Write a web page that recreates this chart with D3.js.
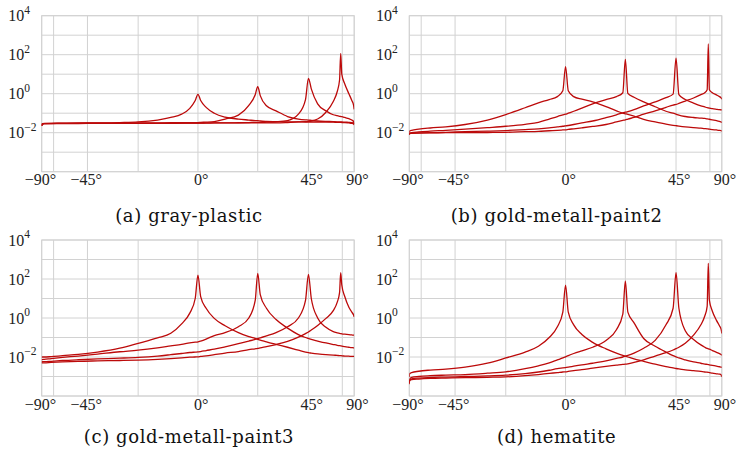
<!DOCTYPE html>
<html><head><meta charset="utf-8">
<script src="https://cdn.jsdelivr.net/npm/d3@7"></script>
<style>body{margin:0;background:#fff}svg{display:block}</style>
</head><body>
<svg id="fig" width="739" height="453"></svg>
<script>
// Outgoing elevation angles (degrees) shared by every slice.
const angles = [-90,-87,-80,-70,-60,-50,-40,-30,-22.5,-15,-10,-6,-3,-1,0,1,3,6,10,15,19,21.5,22.5,23.5,26,30,35,40,43.5,45,46.5,50,55,60,63,65,66,67,70,75,80,85,90];

// log10 of the reflectance, one row per incident direction.
const grayPlastic = [
  [-1.65,-1.55,-1.52,-1.52,-1.51,-1.5,-1.5,-1.48,-1.45,-1.35,-1.22,-1.05,-0.75,-0.35,-0.03,-0.35,-0.7,-1.0,-1.2,-1.3,-1.35,-1.38,-1.38,-1.4,-1.42,-1.43,-1.44,-1.44,-1.45,-1.45,-1.45,-1.45,-1.46,-1.46,-1.47,-1.47,-1.47,-1.48,-1.48,-1.5,-1.52,-1.55,-1.6],
  [-1.65,-1.56,-1.53,-1.52,-1.52,-1.52,-1.51,-1.51,-1.5,-1.5,-1.49,-1.49,-1.48,-1.48,-1.48,-1.47,-1.46,-1.43,-1.3,-1.1,-0.6,-0.05,0.36,-0.1,-0.62,-0.88,-1.17,-1.3,-1.34,-1.35,-1.37,-1.4,-1.42,-1.43,-1.44,-1.45,-1.45,-1.45,-1.46,-1.47,-1.48,-1.5,-1.55],
  [-1.65,-1.56,-1.53,-1.53,-1.52,-1.52,-1.52,-1.52,-1.52,-1.52,-1.51,-1.51,-1.51,-1.51,-1.51,-1.51,-1.5,-1.5,-1.5,-1.49,-1.48,-1.47,-1.47,-1.47,-1.46,-1.44,-1.38,-1.05,-0.3,0.79,0.25,-0.52,-0.88,-1.08,-1.13,-1.16,-1.17,-1.18,-1.22,-1.28,-1.35,-1.42,-1.55],
  [-1.65,-1.57,-1.53,-1.53,-1.53,-1.53,-1.52,-1.52,-1.52,-1.52,-1.52,-1.51,-1.51,-1.51,-1.51,-1.51,-1.51,-1.5,-1.5,-1.5,-1.5,-1.5,-1.5,-1.5,-1.5,-1.5,-1.48,-1.45,-1.43,-1.42,-1.4,-1.3,-0.95,-0.4,0.1,0.7,2.07,1.0,0.5,0.0,-0.35,-0.6,-0.8]
];
const goldMetallPaint2 = [
  [-2.0,-1.93,-1.88,-1.82,-1.76,-1.7,-1.58,-1.35,-1.07,-0.72,-0.47,-0.3,-0.15,0.15,1.39,0.15,-0.15,-0.28,-0.42,-0.66,-0.88,-1.0,-1.03,-1.06,-1.15,-1.32,-1.45,-1.56,-1.62,-1.64,-1.66,-1.7,-1.74,-1.77,-1.79,-1.8,-1.81,-1.82,-1.84,-1.86,-1.88,-1.9,-1.92],
  [-2.12,-2.05,-2.0,-1.96,-1.92,-1.88,-1.82,-1.74,-1.67,-1.57,-1.47,-1.3,-1.17,-1.09,-1.05,-1.0,-0.9,-0.74,-0.52,-0.3,-0.15,0.05,1.76,0.02,-0.18,-0.42,-0.67,-0.9,-1.0,-1.05,-1.1,-1.17,-1.22,-1.25,-1.27,-1.29,-1.3,-1.31,-1.34,-1.38,-1.42,-1.45,-1.48],
  [-2.1,-2.05,-2.03,-2.02,-2.0,-1.98,-1.95,-1.92,-1.89,-1.84,-1.8,-1.75,-1.7,-1.67,-1.65,-1.63,-1.58,-1.5,-1.4,-1.23,-1.08,-0.98,-0.95,-0.92,-0.82,-0.62,-0.42,-0.2,-0.02,1.82,-0.05,-0.3,-0.48,-0.62,-0.68,-0.72,-0.73,-0.74,-0.77,-0.8,-0.82,-0.83,-0.85],
  [-2.08,-2.02,-2.02,-2.01,-2.01,-2.0,-2.0,-1.99,-1.98,-1.95,-1.93,-1.9,-1.88,-1.86,-1.85,-1.83,-1.8,-1.75,-1.68,-1.58,-1.45,-1.37,-1.34,-1.3,-1.22,-1.05,-0.88,-0.7,-0.58,-0.55,-0.5,-0.38,-0.22,-0.05,0.05,0.2,2.55,0.2,0.05,-0.06,-0.15,-0.22,-0.28]
];
const goldMetallPaint3 = [
  [-1.98,-2.0,-2.0,-1.98,-1.93,-1.87,-1.75,-1.55,-1.3,-1.02,-0.78,-0.3,0.25,1.0,2.2,1.1,0.5,-0.02,-0.4,-0.75,-0.95,-1.05,-1.1,-1.13,-1.22,-1.35,-1.5,-1.65,-1.75,-1.78,-1.8,-1.84,-1.88,-1.9,-1.92,-1.93,-1.93,-1.94,-1.95,-1.96,-1.97,-1.97,-1.96],
  [-2.12,-2.13,-2.12,-2.08,-2.02,-1.95,-1.85,-1.73,-1.65,-1.53,-1.43,-1.35,-1.28,-1.24,-1.22,-1.18,-1.08,-0.9,-0.75,-0.45,0.0,0.9,2.29,1.2,0.5,-0.08,-0.52,-0.85,-1.0,-1.05,-1.1,-1.18,-1.28,-1.36,-1.4,-1.42,-1.43,-1.44,-1.47,-1.5,-1.52,-1.53,-1.53],
  [-2.22,-2.24,-2.24,-2.22,-2.18,-2.14,-2.1,-2.06,-2.02,-1.95,-1.88,-1.82,-1.77,-1.75,-1.74,-1.72,-1.67,-1.6,-1.48,-1.32,-1.18,-1.1,-1.05,-1.02,-0.92,-0.75,-0.45,0.0,0.9,2.24,1.0,0.0,-0.48,-0.7,-0.76,-0.79,-0.8,-0.81,-0.83,-0.85,-0.87,-0.88,-0.88],
  [-2.27,-2.3,-2.3,-2.28,-2.25,-2.22,-2.2,-2.18,-2.16,-2.12,-2.08,-2.04,-2.01,-2.0,-1.99,-1.97,-1.94,-1.88,-1.8,-1.72,-1.62,-1.58,-1.56,-1.53,-1.47,-1.36,-1.2,-0.98,-0.8,-0.72,-0.62,-0.38,-0.02,0.38,0.8,1.3,2.32,1.7,1.1,0.55,0.3,0.15,0.06]
];
const hematite = [
  [-3.02,-2.87,-2.8,-2.73,-2.67,-2.62,-2.52,-2.32,-2.05,-1.75,-1.45,-1.0,-0.45,0.3,1.69,0.3,-0.35,-0.85,-1.25,-1.58,-1.8,-1.92,-1.96,-2.0,-2.1,-2.22,-2.37,-2.49,-2.56,-2.59,-2.61,-2.66,-2.7,-2.74,-2.77,-2.78,-2.79,-2.8,-2.83,-2.86,-2.88,-2.92,-3.02],
  [-3.33,-3.15,-3.05,-3.0,-2.96,-2.93,-2.9,-2.83,-2.76,-2.6,-2.45,-2.3,-2.15,-2.05,-1.99,-1.93,-1.82,-1.68,-1.5,-1.15,-0.6,0.2,1.89,0.3,-0.25,-1.05,-1.45,-1.75,-1.93,-1.99,-2.05,-2.15,-2.25,-2.32,-2.36,-2.38,-2.39,-2.4,-2.43,-2.47,-2.5,-2.52,-2.54],
  [-3.36,-3.2,-3.12,-3.08,-3.05,-3.03,-3.0,-2.97,-2.93,-2.85,-2.77,-2.68,-2.6,-2.56,-2.54,-2.52,-2.47,-2.4,-2.32,-2.2,-2.07,-2.0,-1.96,-1.92,-1.8,-1.55,-1.15,-0.35,0.5,2.32,0.5,-0.65,-1.1,-1.38,-1.5,-1.56,-1.58,-1.6,-1.67,-1.76,-1.83,-1.88,-1.91],
  [-3.4,-3.22,-3.16,-3.13,-3.1,-3.08,-3.06,-3.04,-3.02,-2.96,-2.9,-2.84,-2.8,-2.77,-2.76,-2.74,-2.7,-2.65,-2.57,-2.48,-2.42,-2.38,-2.37,-2.35,-2.28,-2.15,-1.95,-1.78,-1.64,-1.57,-1.5,-1.3,-0.88,-0.35,0.1,0.6,2.8,0.9,0.35,-0.12,-0.4,-0.6,-0.79]
];

const panelData = [grayPlastic, goldMetallPaint2, goldMetallPaint3, hematite];
const panelTitles = ["(a) gray-plastic", "(b) gold-metall-paint2", "(c) gold-metall-paint3", "(d) hematite"];
const xTickAngles = [-90, -45, 0, 45, 90];
const xGridAngles = [-90, -67.5, -45, -22.5, 0, 22.5, 45, 67.5, 90];
const yTickExps = [-2, 0, 2, 4];
const yGridExps = [-4, -3, -2, -1, 0, 1, 2, 3, 4];

// Layout
const W = 312.5, H = 156;
const origins = [[41.7, 15.7], [409.3, 15.7], [41.7, 240], [409.3, 240]];
const captionY = [221.5, 221.5, 443, 443];
const gridColor = "#d2d2d2";
const lineColor = "#bc0a0a";
const tickFont = "'Liberation Serif', 'Times New Roman', serif";
const capFont = "'DejaVu Serif', serif";

const svg = d3.select("#fig");
const defs = svg.append("defs");

panelData.forEach((rows, p) => {
  const [left, top] = origins[p];
  const sx = d3.scaleLinear().domain([-1, 1]).range([left, left + W]);
  const xa = a => sx(Math.sin(a * Math.PI / 180));
  const y = d3.scaleLog().domain([1e-4, 1e4]).range([top + H, top]);
  const g = svg.append("g");

  defs.append("clipPath").attr("id", "clip" + p)
    .append("rect").attr("x", left).attr("y", top - 2).attr("width", W).attr("height", H + 2);

  // grid
  g.selectAll("line.v").data(xGridAngles).join("line")
    .attr("x1", d => xa(d)).attr("x2", d => xa(d))
    .attr("y1", top).attr("y2", top + H)
    .attr("stroke", gridColor).attr("stroke-width", 1);
  g.selectAll("line.h").data(yGridExps).join("line")
    .attr("x1", left).attr("x2", left + W)
    .attr("y1", d => y(Math.pow(10, d))).attr("y2", d => y(Math.pow(10, d)))
    .attr("stroke", gridColor).attr("stroke-width", 1);
  g.append("rect").attr("x", left).attr("y", top).attr("width", W).attr("height", H)
    .attr("fill", "none").attr("stroke", gridColor).attr("stroke-width", 1);

  // curves
  const line = d3.line()
    .x((d, i) => xa(angles[i]))
    .y(d => y(Math.pow(10, d)))
    .curve(d3.curveMonotoneX);
  g.append("g").attr("clip-path", `url(#clip${p})`)
    .selectAll("path").data(rows).join("path")
    .attr("d", line)
    .attr("fill", "none").attr("stroke", lineColor)
    .attr("stroke-width", 1.3).attr("stroke-linejoin", "round");

  // y tick labels
  yTickExps.forEach(k => {
    const t = g.append("text")
      .attr("x", left - 33.4).attr("y", y(Math.pow(10, k)) + 5.7)
      .attr("font-family", tickFont).attr("font-size", 16).attr("fill", "#222");
    t.append("tspan").text("10");
    t.append("tspan").attr("font-size", 11.5).attr("dy", -7.5)
      .text(k < 0 ? "\u2212" + (-k) : String(k));
  });

  // x tick labels: digits centred on the tick, sign and degree mark attached
  xTickAngles.forEach(a => {
    const cx = xa(a), by = top + H + 13.5;
    const num = g.append("text").attr("x", cx).attr("y", by)
      .attr("text-anchor", "middle")
      .attr("font-family", tickFont).attr("font-size", 16).attr("fill", "#222")
      .text(String(Math.abs(a)));
    const half = num.node().getComputedTextLength() / 2;
    if (a < 0) {
      g.append("text").attr("x", cx - half).attr("y", by).attr("text-anchor", "end")
        .attr("font-family", tickFont).attr("font-size", 16).attr("fill", "#222").text("\u2212");
    }
    g.append("text").attr("x", cx + half).attr("y", by)
      .attr("font-family", tickFont).attr("font-size", 16).attr("fill", "#222").text("\u00B0");
  });

  // caption
  g.append("text").attr("x", left + 147.3).attr("y", captionY[p])
    .attr("text-anchor", "middle")
    .attr("font-family", capFont).attr("font-size", 18).attr("letter-spacing", 0.6)
    .attr("fill", "#111").text(panelTitles[p]);
});
</script>
</body></html>
